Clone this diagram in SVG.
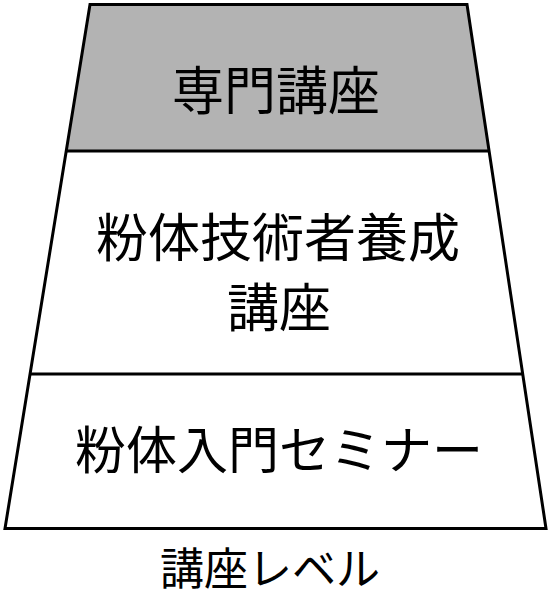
<svg xmlns="http://www.w3.org/2000/svg" width="555" height="597" viewBox="0 0 555 597">
  <style>
    .lbl { font-family: "Noto Sans CJK JP", "Noto Sans", sans-serif; fill: #000; text-anchor: middle; dominant-baseline: central; }
    .edge { fill: none; stroke: #000; stroke-width: 3; stroke-linejoin: miter; }
  </style>
  <rect x="0" y="0" width="555" height="597" fill="#fff"/>
  <g id="node-senmon">
    <polygon points="90,4.5 467,4.5 489.1,151 66.2,151" fill="#b3b3b3"/>
    <text class="lbl" x="276" y="87.5" font-size="52">専門講座</text>
  </g>
  <g id="node-gijutsusha">
    <polygon points="66.2,151 489.1,151 522.7,374 30.1,374" fill="#fff"/>
    <text class="lbl" x="278" y="234" font-size="52">粉体技術者養成</text>
    <text class="lbl" x="279" y="304" font-size="52">講座</text>
  </g>
  <g id="node-nyumon">
    <polygon points="30.1,374 522.7,374 546,528.5 5,528.5" fill="#fff"/>
    <text class="lbl" x="279" y="447" font-size="51">粉体入門セミナー</text>
  </g>
  <g id="connectors">
    <polygon class="edge" points="90,4.5 467,4.5 546,528.5 5,528.5"/>
    <line class="edge" x1="66.2" y1="151" x2="489.1" y2="151"/>
    <line class="edge" x1="30.1" y1="374" x2="522.7" y2="374"/>
  </g>
  <g id="axis-label">
    <text class="lbl" x="270" y="566" font-size="44">講座レベル</text>
  </g>
</svg>
